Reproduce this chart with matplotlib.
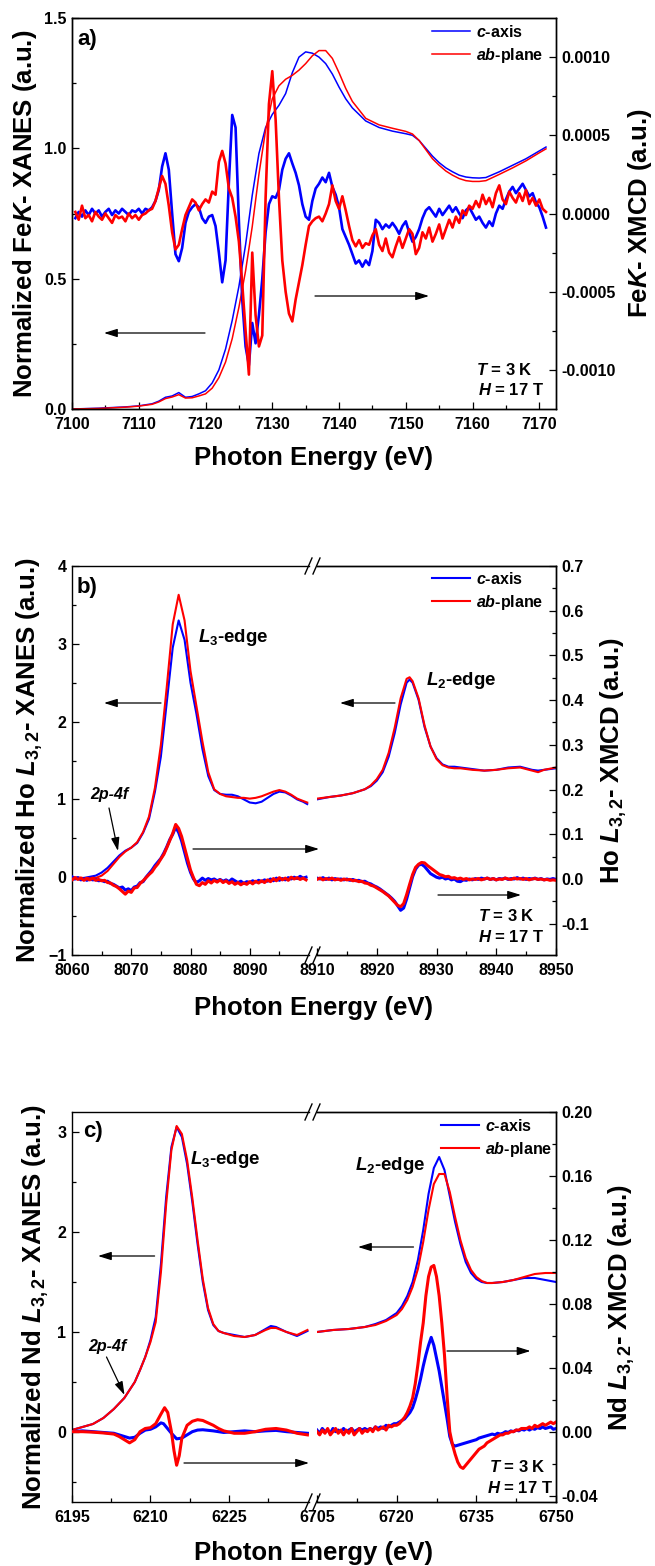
import matplotlib.pyplot as plt
import numpy as np
from matplotlib.ticker import FixedLocator, FormatStrFormatter
from matplotlib.patches import FancyArrowPatch
from matplotlib.lines import Line2D

plt.rcParams['font.family'] = ['Liberation Sans', 'DejaVu Sans']
plt.rcParams['font.weight'] = 'bold'
plt.rcParams['axes.labelweight'] = 'bold'
plt.rcParams['mathtext.fontset'] = 'custom'
plt.rcParams['mathtext.rm'] = 'Liberation Sans:bold'
plt.rcParams['mathtext.it'] = 'Liberation Sans:italic:bold'
plt.rcParams['mathtext.bf'] = 'Liberation Sans:bold'
plt.rcParams['axes.linewidth'] = 1.0

# ---------------- a) Fe K edge ----------------
fe_e = [7100, 7104, 7108, 7110, 7112, 7113, 7114, 7115, 7116, 7117,
        7118, 7119, 7120, 7121, 7122, 7123, 7124, 7125, 7126, 7127,
        7128, 7129, 7130, 7131, 7132, 7133, 7134, 7135, 7136, 7137,
        7138, 7139, 7140, 7141, 7142, 7144, 7146, 7148, 7150, 7151,
        7152, 7153, 7154, 7155, 7156, 7157, 7158, 7159, 7160, 7161,
        7162, 7164, 7166, 7168, 7170, 7171]
fe_xanes_c = [0.0, 0.003, 0.008, 0.012, 0.02, 0.03, 0.045, 0.05, 0.063, 0.045,
              0.048, 0.058, 0.07, 0.1, 0.15, 0.23, 0.34, 0.47, 0.63, 0.82,
              0.98, 1.08, 1.13, 1.165, 1.21, 1.29, 1.35, 1.37, 1.365, 1.35,
              1.325, 1.285, 1.235, 1.19, 1.155, 1.105, 1.08, 1.066, 1.056, 1.05,
              1.03, 1.0, 0.97, 0.945, 0.925, 0.91, 0.897, 0.89, 0.887, 0.886,
              0.888, 0.91, 0.935, 0.96, 0.99, 1.005]
fe_xanes_ab = [0.0, 0.002, 0.007, 0.011, 0.018, 0.027, 0.04, 0.046, 0.055, 0.042,
               0.043, 0.05, 0.058, 0.08, 0.12, 0.18, 0.27, 0.39, 0.53, 0.7,
               0.9, 1.07, 1.19, 1.24, 1.265, 1.28, 1.3, 1.325, 1.355, 1.375,
               1.375, 1.345, 1.29, 1.23, 1.18, 1.115, 1.09, 1.077, 1.065, 1.055,
               1.03, 0.995, 0.96, 0.935, 0.913, 0.897, 0.884, 0.876, 0.873, 0.873,
               0.876, 0.9, 0.925, 0.952, 0.983, 0.998]

# XMCD in units of 1e-4, 0.5 eV steps from 7100.5 to 7171
fe_xmcd_c = [-0.3, 0.1, -0.2, 0.2, -0.1, 0.3, 0.0, 0.2, -0.2, 0.1,
             0.3, -0.1, 0.2, 0.0, 0.3, 0.1, -0.1, 0.2, 0.1, 0.3,
             0.0, 0.3, 0.2, 0.4, 0.8, 1.5, 3.0, 3.85, 2.8, 0.0,
             -2.6, -3.05, -2.2, -0.6, 0.1, 0.4, 0.6, 0.4, -0.3, -0.6,
             -0.2, -0.1, -0.8, -2.5, -4.4, -3.0, 2.0, 6.3, 5.5, -0.5,
             -5.5, -8.5, -9.7, -7.0, -8.3, -6.5, -4.2, -1.2, 0.6, 1.1,
             1.0, 1.5, 2.8, 3.5, 3.85, 3.2, 2.6, 1.8, 0.6, -0.2,
             -0.4, 0.8, 1.6, 1.9, 2.3, 2.0, 2.6, 1.7, 1.2, 0.4,
             -1.0, -1.5, -2.0, -2.6, -3.2, -3.0, -3.4, -3.0, -3.3, -2.4,
             -0.4, -0.6, -1.0, -0.7, -0.9, -0.6, -0.9, -1.3, -0.8, -0.5,
             -1.2, -1.8, -1.5, -1.0, -0.3, 0.2, 0.4, 0.1, -0.2, 0.3,
             -0.1, 0.2, 0.5, 0.1, 0.4, 0.0, -0.3, 0.2, 0.4, 0.0,
             -0.4, -0.2, -0.6, -0.9, -0.5, -0.8, 0.0, 0.5, 0.3, 0.9,
             1.4, 1.7, 1.3, 1.6, 1.9, 1.5, 1.1, 1.3, 0.7, 0.4,
             -0.2, -0.9]
fe_xmcd_ab = [0.1, -0.4, 0.5, -0.3, -0.1, -0.5, 0.1, -0.2, -0.4, 0.0,
              -0.3, -0.6, -0.1, -0.3, -0.2, -0.5, 0.0, -0.3, -0.1, -0.4,
              -0.1, 0.0, 0.2, 0.3, 0.8, 1.6, 2.4, 1.9, 0.5, -1.2,
              -2.3, -2.0, -1.0, -0.1, 0.4, 0.9, 0.7, 0.2, 0.6, 0.9,
              0.7, 1.4, 1.2, 3.3, 4.0, 3.2, 1.6, 1.0, -0.2, -1.8,
              -4.5, -7.5, -10.3, -2.5, -6.5, -8.5, -7.8, 1.0, 7.0, 9.1,
              6.0, 1.0, -3.0, -5.0, -6.4, -6.9, -5.5, -4.4, -3.3, -2.0,
              -0.8, -0.5, -0.3, -0.2, -0.5, 0.0, 0.6, 1.8, 0.8, 0.3,
              1.1, 0.2, -0.8, -1.7, -2.1, -1.7, -2.2, -1.9, -2.0, -1.4,
              -1.0, -2.0, -2.4, -1.6, -2.5, -2.8, -2.1, -1.5, -2.2, -1.6,
              -1.0, -1.3, -2.6, -2.2, -1.2, -1.6, -0.9, -1.8, -1.3, -0.7,
              -1.6, -1.0, -0.4, -0.9, -0.2, -0.6, 0.2, -0.1, 0.5, 0.3,
              0.8, 0.4, 1.2, 0.6, 1.0, 0.4, 1.3, 1.8, 0.9, 0.6,
              1.4, 1.0, 0.7, 1.3, 0.8, 1.5, 0.6, 1.0, 0.5, 0.9,
              0.3, 0.1]
fe_xmcd_e = np.linspace(7100.5, 7171, len(fe_xmcd_c))

fe_xticks = [7100, 7110, 7120, 7130, 7140, 7150, 7160, 7170]
fe_yticks = [0.0, 0.5, 1.0, 1.5]
fe_y2ticks = [-0.0010, -0.0005, 0.0, 0.0005, 0.0010]

# ---------------- b) Ho L3,2 edges ----------------
ho_l_e = [8060, 8062, 8064, 8065, 8066, 8067, 8068, 8069, 8070, 8071,
          8072, 8073, 8074, 8075, 8076, 8077, 8078, 8079, 8080, 8081,
          8082, 8083, 8084, 8085, 8086, 8087, 8088, 8089, 8090, 8091,
          8092, 8093, 8094, 8095, 8096, 8097, 8098, 8099, 8099.7]
ho_l_xanes_c = [-0.03, -0.01, 0.02, 0.06, 0.12, 0.2, 0.28, 0.34, 0.38, 0.44,
                0.57, 0.75, 1.1, 1.55, 2.25, 2.95, 3.3, 3.05, 2.5, 2.1,
                1.65, 1.3, 1.12, 1.07, 1.06, 1.06, 1.04, 1.0, 0.96, 0.95,
                0.97, 1.02, 1.07, 1.1, 1.09, 1.05, 1.0, 0.97, 0.94]
ho_l_xanes_ab = [0.0, -0.01, -0.01, 0.02, 0.08, 0.17, 0.26, 0.33, 0.38, 0.45,
                 0.58, 0.78, 1.15, 1.7, 2.45, 3.25, 3.63, 3.3, 2.65, 2.2,
                 1.75, 1.35, 1.13, 1.07, 1.04, 1.03, 1.02, 1.02, 1.01, 1.02,
                 1.04, 1.07, 1.1, 1.12, 1.1, 1.06, 1.01, 0.98, 0.96]
ho_r_e = [8910, 8912, 8914, 8916, 8918, 8919, 8920, 8921, 8922, 8923,
          8924, 8925, 8925.5, 8926, 8927, 8928, 8929, 8930, 8931, 8932,
          8933, 8934, 8936, 8938, 8940, 8942, 8944, 8946, 8947, 8948, 8950]
ho_r_xanes_c = [1.0, 1.03, 1.05, 1.08, 1.13, 1.17, 1.24, 1.35, 1.55, 1.85,
                2.22, 2.5, 2.54, 2.5, 2.28, 1.93, 1.68, 1.53, 1.45, 1.42,
                1.42, 1.41, 1.39, 1.37, 1.38, 1.41, 1.42, 1.38, 1.37, 1.38, 1.4]
ho_r_xanes_ab = [1.01, 1.03, 1.05, 1.08, 1.13, 1.18, 1.26, 1.38, 1.6, 1.92,
                 2.3, 2.55, 2.57, 2.52, 2.3, 1.95, 1.68, 1.52, 1.44, 1.41,
                 1.4, 1.4, 1.38, 1.37, 1.38, 1.4, 1.41, 1.37, 1.35, 1.38, 1.41]

# XMCD, 0.5 eV steps (8060-8099.5 and 8910-8950)
ho_l_xmcd_c = [0.005, 0.0, 0.003, -0.002, 0.001, -0.003, 0.0, -0.002, -0.001, -0.004,
               -0.003, -0.006, -0.005, -0.01, -0.012, -0.016, -0.02, -0.018, -0.025, -0.022,
               -0.026, -0.018, -0.016, -0.008, -0.006, 0.004, 0.012, 0.02, 0.03, 0.038,
               0.046, 0.058, 0.072, 0.088, 0.1, 0.116, 0.104, 0.085, 0.06, 0.035,
               0.015, 0.0, -0.008, -0.004, 0.002, -0.003, 0.001, -0.002, 0.0, -0.004,
               -0.001, -0.005, -0.002, -0.006, 0.0, -0.004, -0.008, -0.005, -0.01, -0.006,
               -0.008, -0.004, -0.007, -0.003, -0.006, -0.002, -0.005, 0.0, -0.004, 0.002,
               -0.003, 0.001, -0.002, 0.003, 0.0, 0.004, 0.001, 0.006, 0.002, 0.004]
ho_l_xmcd_ab = [-0.002, 0.003, -0.001, 0.002, -0.003, 0.001, -0.002, 0.002, -0.003, -0.001,
                -0.004, -0.003, -0.008, -0.009, -0.014, -0.017, -0.022, -0.028, -0.034, -0.027,
                -0.03, -0.02, -0.019, -0.01, -0.004, 0.003, 0.01, 0.016, 0.026, 0.034,
                0.045, 0.055, 0.07, 0.086, 0.102, 0.122, 0.113, 0.095, 0.07, 0.045,
                0.02, 0.003, -0.012, -0.015, -0.008, -0.012, -0.004, -0.009, -0.003, -0.007,
                -0.002, -0.008, -0.004, -0.01, -0.006, -0.012, -0.008, -0.013, -0.009, -0.012,
                -0.006, -0.011, -0.005, -0.009, -0.004, -0.008, -0.002, -0.006, 0.001, -0.004,
                0.003, -0.002, 0.002, -0.003, 0.004, 0.0, 0.003, -0.001, 0.002, -0.002]
ho_r_xmcd_c = [0.002, 0.0, 0.003, -0.001, 0.002, -0.002, 0.001, -0.001, 0.0, -0.002,
               0.0, -0.003, -0.001, -0.004, -0.003, -0.006, -0.005, -0.009, -0.011, -0.015,
               -0.018, -0.022, -0.027, -0.032, -0.037, -0.043, -0.05, -0.06, -0.07, -0.065,
               -0.045, -0.02, 0.005, 0.022, 0.031, 0.033, 0.028, 0.02, 0.012, 0.008,
               0.004, 0.002, 0.004, 0.0, 0.002, -0.002, 0.0, -0.005, -0.006, -0.002,
               -0.003, 0.0, -0.002, 0.001, -0.001, 0.002, 0.0, 0.002, -0.001, 0.001,
               -0.002, 0.001, 0.0, 0.002, -0.001, 0.001, 0.0, 0.003, 0.0, 0.002,
               -0.001, 0.001, 0.0, 0.002, -0.001, 0.001, -0.002, 0.0, -0.001, 0.001,
               -0.001]
ho_r_xmcd_ab = [-0.001, 0.002, -0.002, 0.001, -0.001, 0.002, -0.002, 0.0, -0.003, 0.0,
                -0.002, -0.001, -0.004, -0.003, -0.006, -0.005, -0.009, -0.01, -0.014, -0.016,
                -0.02, -0.024, -0.028, -0.033, -0.038, -0.045, -0.052, -0.059, -0.062, -0.055,
                -0.035, -0.012, 0.01, 0.026, 0.033, 0.037, 0.036, 0.03, 0.025, 0.02,
                0.015, 0.01, 0.008, 0.005, 0.006, 0.002, 0.003, 0.0, 0.002, -0.001,
                0.001, -0.002, 0.0, -0.001, 0.001, -0.002, 0.0, 0.002, -0.001, 0.001,
                -0.002, 0.0, -0.001, 0.002, 0.0, -0.001, 0.002, 0.0, 0.001, -0.001,
                0.001, -0.002, 0.0, 0.001, -0.001, 0.0, -0.002, -0.001, -0.003, -0.002,
                -0.003]
ho_l_xmcd_e = np.linspace(8060, 8099.5, len(ho_l_xmcd_c))
ho_r_xmcd_e = np.linspace(8910, 8950, len(ho_r_xmcd_c))

ho_xticks_l = [8060, 8070, 8080, 8090]
ho_xminor_l = [8065, 8075, 8085, 8095]
ho_xticks_r = [8910, 8920, 8930, 8940, 8950]
ho_xminor_r = [8915, 8925, 8935, 8945]
ho_yticks = [-1, 0, 1, 2, 3, 4]
ho_y2ticks = [-0.1, 0.0, 0.1, 0.2, 0.3, 0.4, 0.5, 0.6, 0.7]

# ---------------- c) Nd L3,2 edges ----------------
nd_l_e = [6195, 6197, 6199, 6201, 6203, 6205, 6206, 6207, 6208, 6209,
          6210, 6211, 6212, 6213, 6214, 6215, 6216, 6217, 6218, 6219,
          6220, 6221, 6222, 6223, 6224, 6226, 6228, 6230, 6232, 6233,
          6234, 6236, 6238, 6240]
nd_l_xanes_c = [0.02, 0.05, 0.08, 0.14, 0.23, 0.34, 0.42, 0.5, 0.62, 0.75,
                0.92, 1.15, 1.68, 2.35, 2.85, 3.05, 2.95, 2.68, 2.3, 1.88,
                1.5, 1.22, 1.07, 1.01, 0.99, 0.97, 0.95, 0.97, 1.03, 1.06,
                1.05, 1.0, 0.96, 1.01]
nd_l_xanes_ab = [0.02, 0.05, 0.08, 0.14, 0.23, 0.34, 0.42, 0.5, 0.62, 0.75,
                 0.9, 1.1, 1.6, 2.28, 2.82, 3.06, 2.98, 2.72, 2.34, 1.92,
                 1.53, 1.24, 1.08, 1.01, 0.99, 0.96, 0.95, 0.97, 1.02, 1.04,
                 1.04, 1.0, 0.97, 1.02]
nd_r_e = [6705, 6708, 6711, 6714, 6716, 6718, 6720, 6721, 6722, 6723,
          6724, 6725, 6726, 6727, 6728, 6729, 6730, 6731, 6732, 6733,
          6734, 6735, 6736, 6737, 6738, 6740, 6742, 6744, 6746, 6748, 6750]
nd_r_xanes_c = [1.0, 1.02, 1.03, 1.05, 1.08, 1.12, 1.19, 1.26, 1.36, 1.5,
                1.72, 2.02, 2.38, 2.64, 2.75, 2.62, 2.36, 2.1, 1.88, 1.7,
                1.59, 1.53, 1.5, 1.49, 1.49, 1.5, 1.52, 1.54, 1.54, 1.52, 1.5]
nd_r_xanes_ab = [1.0, 1.02, 1.03, 1.05, 1.07, 1.11, 1.17, 1.23, 1.32, 1.45,
                 1.63, 1.9, 2.22, 2.48, 2.58, 2.58, 2.4, 2.15, 1.92, 1.74,
                 1.62, 1.55, 1.51, 1.49, 1.49, 1.5, 1.52, 1.55, 1.58, 1.59, 1.59]

nd_l_xmcd_e_c = [6195, 6197, 6199, 6201, 6203, 6205, 6206, 6207, 6208, 6209,
                 6210, 6211, 6212, 6212.5, 6213, 6214, 6215, 6216, 6217, 6218,
                 6219, 6220, 6222, 6224, 6226, 6228, 6230, 6232, 6234, 6236,
                 6238, 6240]
nd_l_xmcd_c = [0.0, 0.0005, 0.0, -0.0005, -0.001, -0.003, -0.004, -0.0035, -0.001, 0.001,
               0.0015, 0.003, 0.0055, 0.005, 0.003, -0.001, -0.0045, -0.004, -0.002, 0.0,
               0.001, 0.0012, 0.0005, -0.0005, 0.0, 0.0005, 0.0, 0.0005, 0.0008, 0.0,
               -0.0005, -0.001]
nd_l_xmcd_e_ab = [6195, 6197, 6199, 6201, 6203, 6204, 6205, 6206, 6207, 6208,
                  6209, 6210, 6211, 6212, 6212.7, 6213.3, 6214, 6214.5, 6215, 6215.5,
                  6216, 6217, 6218, 6219, 6220, 6221, 6222, 6223, 6224, 6226,
                  6228, 6230, 6232, 6234, 6236, 6238, 6240]
nd_l_xmcd_ab = [0.0, 0.0, -0.0003, -0.0008, -0.0015, -0.003, -0.005, -0.007, -0.005, 0.0,
                0.002, 0.0025, 0.005, 0.011, 0.015, 0.012, 0.0, -0.012, -0.021, -0.015,
                -0.004, 0.004, 0.0065, 0.0075, 0.007, 0.0055, 0.004, 0.002, 0.0005, -0.001,
                -0.001, 0.0, 0.0015, 0.002, 0.001, -0.001, -0.002]
# 0.5 eV steps, 6705-6750
nd_r_xmcd_c = [0.001, -0.001, 0.002, 0.0, 0.001, -0.001, 0.002, 0.0, 0.001, 0.0,
               0.002, 0.0, 0.001, 0.002, 0.0, 0.001, 0.002, 0.001, 0.002, 0.001,
               0.002, 0.001, 0.003, 0.002, 0.003, 0.002, 0.004, 0.003, 0.004, 0.005,
               0.005, 0.006, 0.007, 0.008, 0.01, 0.012, 0.015, 0.02, 0.026, 0.033,
               0.041, 0.048, 0.054, 0.059, 0.054, 0.046, 0.038, 0.028, 0.018, 0.008,
               -0.003, -0.008, -0.009, -0.0085, -0.008, -0.0075, -0.007, -0.0065, -0.006, -0.0055,
               -0.005, -0.004, -0.0035, -0.003, -0.0025, -0.002, -0.0015, -0.002, -0.001, -0.0015,
               -0.001, 0.0, -0.0005, 0.0005, 0.0, 0.001, 0.0005, 0.0015, 0.001, 0.002,
               0.001, 0.002, 0.0015, 0.0025, 0.002, 0.003, 0.002, 0.0025, 0.003, 0.0015,
               0.002]
nd_r_xmcd_ab = [0.0, -0.002, 0.001, -0.001, 0.002, -0.002, 0.0, 0.002, -0.001, 0.001,
                -0.002, 0.001, -0.001, 0.002, -0.002, 0.0, 0.002, -0.001, 0.001, 0.0,
                0.002, 0.0, 0.003, 0.001, 0.002, 0.003, 0.001, 0.004, 0.003, 0.004,
                0.004, 0.005, 0.007, 0.009, 0.012, 0.016, 0.021, 0.03, 0.042, 0.056,
                0.068, 0.085, 0.097, 0.103, 0.104, 0.097, 0.085, 0.068, 0.048, 0.022,
                0.0, -0.008, -0.014, -0.019, -0.022, -0.023, -0.021, -0.019, -0.017, -0.015,
                -0.013, -0.011, -0.01, -0.009, -0.007, -0.006, -0.005, -0.004, -0.003, -0.002,
                -0.002, -0.001, -0.001, 0.0, 0.0, 0.001, 0.001, 0.002, 0.002, 0.002,
                0.003, 0.002, 0.004, 0.003, 0.004, 0.005, 0.004, 0.005, 0.006, 0.005,
                0.006]
nd_r_xmcd_e = np.linspace(6705, 6750, len(nd_r_xmcd_c))

nd_xticks_l = [6195, 6210, 6225]
nd_xminor_l = [6202.5, 6217.5, 6232.5]
nd_xticks_r = [6705, 6720, 6735, 6750]
nd_xminor_r = [6712.5, 6727.5, 6742.5]
nd_yticks = [0, 1, 2, 3]
nd_y2ticks = [-0.04, 0.0, 0.04, 0.08, 0.12, 0.16, 0.20]

W, H = 655, 1566
fig = plt.figure(figsize=(W / 100, H / 100), dpi=100)


def box(x0, y0, x1, y1):
    return [x0 / W, 1 - y1 / H, (x1 - x0) / W, (y1 - y0) / H]


def px(x, y):
    return (x / W, 1 - y / H)


def arrow(x0, y0, x1, y1):
    fig.add_artist(FancyArrowPatch(px(x0, y0), px(x1, y1), transform=fig.transFigure,
                                   arrowstyle='-|>,head_length=0.8,head_width=0.25',
                                   mutation_scale=10, lw=0.9, color='black',
                                   shrinkA=0, shrinkB=0))


def style(ax):
    ax.tick_params(which='both', direction='in', top=False, labelsize=11.5, width=0.9, pad=4)
    ax.tick_params(axis='x', which='both', pad=6)
    ax.tick_params(which='major', length=5)
    ax.tick_params(which='minor', length=3)


def minor_y(ax, ticks):
    step = ticks[1] - ticks[0]
    ax.yaxis.set_major_locator(FixedLocator(ticks))
    ax.yaxis.set_minor_locator(FixedLocator([t + step / 2 for t in ticks[:-1]]))


def legend(ax, handles, x, y):
    ax.legend(handles, ['$c$-axis', '$ab$-plane'], loc='upper left',
              bbox_to_anchor=px(x, y), bbox_transform=fig.transFigure,
              frameon=False, borderpad=0, borderaxespad=0, handlelength=2.4,
              handletextpad=0.35, labelspacing=0.35, fontsize=11.5)


def broken(y0, y1):
    axl = fig.add_axes(box(72, y0, 309, y1))
    axr = fig.add_axes(box(317, y0, 556, y1))
    axl2 = axl.twinx()
    axr2 = axr.twinx()
    axl.spines['right'].set_visible(False)
    axr.spines['left'].set_visible(False)
    for s in axl2.spines.values():
        s.set_visible(False)
    axr2.spines['left'].set_visible(False)
    for a in (axl, axr, axl2, axr2):
        style(a)
    axl.tick_params(axis='y', which='both', right=False)
    axr.tick_params(axis='y', which='both', left=False, labelleft=False, right=False)
    axl2.tick_params(axis='y', which='both', right=False, labelright=False, left=False)
    axr2.tick_params(axis='y', which='both', left=False)
    for y in (y0, y1):
        for x in (308.5, 316.5):
            fig.add_artist(Line2D([(x - 3.5) / W, (x + 3.5) / W],
                                  [1 - (y + 8) / H, 1 - (y - 8) / H],
                                  transform=fig.transFigure, color='black', lw=1.0))
    return axl, axr, axl2, axr2


# ---------- panel a ----------
ax = fig.add_axes(box(72, 18, 556, 409))
ax2 = ax.twinx()
style(ax)
style(ax2)
ax.tick_params(axis='y', which='both', right=False)
la, = ax.plot(fe_e, fe_xanes_c, color='blue', lw=1.1)
lb, = ax.plot(fe_e, fe_xanes_ab, color='red', lw=1.1)
ax2.plot(fe_xmcd_e, np.array(fe_xmcd_c) * 1e-4, color='blue', lw=1.9)
ax2.plot(fe_xmcd_e, np.array(fe_xmcd_ab) * 1e-4, color='red', lw=1.9)
ax.set_xlim(7100, 7172.5)
ax.set_ylim(0, 1.5)
ax2.set_ylim(-0.00125, 0.00125)
ax.xaxis.set_major_locator(FixedLocator(fe_xticks))
ax.xaxis.set_minor_locator(FixedLocator([t + 5 for t in fe_xticks]))
minor_y(ax, fe_yticks)
minor_y(ax2, fe_y2ticks)
ax.yaxis.set_major_formatter(FormatStrFormatter('%.1f'))
ax2.yaxis.set_major_formatter(FormatStrFormatter('%.4f'))
ax.set_xlabel('Photon Energy (eV)', fontsize=18.5)
ax.xaxis.set_label_coords(0.5, -0.095)
ax.set_ylabel('Normalized Fe$K$- XANES (a.u.)', fontsize=18.5)
ax.yaxis.set_label_coords(-0.068, 0.5)
ax2.set_ylabel('Fe$K$- XMCD (a.u.)', fontsize=18.5)
ax2.yaxis.set_label_coords(1.145, 0.5)
legend(ax2, [la, lb], 432, 24)
fig.text(*px(77, 40), 'a)', fontsize=16, va='center')
fig.text(*px(476, 370), '$T$ = 3 K', fontsize=12, va='center')
fig.text(*px(478, 390), '$H$ = 17 T', fontsize=12, va='center')
arrow(205, 333, 104, 333)
arrow(315, 296, 429, 296)

# ---------- panel b ----------
bl, br, bl2, br2 = broken(566, 955)
lc, = bl.plot(ho_l_e, ho_l_xanes_c, color='blue', lw=1.5)
ld, = bl.plot(ho_l_e, ho_l_xanes_ab, color='red', lw=1.5)
br.plot(ho_r_e, ho_r_xanes_c, color='blue', lw=1.5)
br.plot(ho_r_e, ho_r_xanes_ab, color='red', lw=1.5)
bl2.plot(ho_l_xmcd_e, ho_l_xmcd_c, color='blue', lw=2.2)
bl2.plot(ho_l_xmcd_e, ho_l_xmcd_ab, color='red', lw=2.2)
br2.plot(ho_r_xmcd_e, ho_r_xmcd_c, color='blue', lw=2.2)
br2.plot(ho_r_xmcd_e, ho_r_xmcd_ab, color='red', lw=2.2)
bl.set_xlim(8060, 8100)
br.set_xlim(8910, 8950)
for a in (bl, br):
    a.set_ylim(-1, 4)
    minor_y(a, ho_yticks)
for a in (bl2, br2):
    a.set_ylim(-0.17, 0.7)
    minor_y(a, ho_y2ticks)
br2.yaxis.set_major_formatter(FormatStrFormatter('%.1f'))
bl.xaxis.set_major_locator(FixedLocator(ho_xticks_l))
bl.xaxis.set_minor_locator(FixedLocator(ho_xminor_l))
br.xaxis.set_major_locator(FixedLocator(ho_xticks_r))
br.xaxis.set_minor_locator(FixedLocator(ho_xminor_r))
bl.set_xlabel('Photon Energy (eV)', fontsize=18.5)
bl.xaxis.set_label_coords((314 - 72) / 237, -0.105)
bl.set_ylabel('Normalized Ho $L_{3,2}$- XANES (a.u.)', fontsize=18.5)
bl.yaxis.set_label_coords(-0.114, 0.5)
br2.set_ylabel('Ho $L_{3,2}$- XMCD (a.u.)', fontsize=18.5)
br2.yaxis.set_label_coords(1.18, 0.5)
legend(br2, [lc, ld], 432, 571)
fig.text(*px(77, 587), 'b)', fontsize=16, va='center')
fig.text(*px(198, 638), '$L_3$-edge', fontsize=13.5, va='center')
fig.text(*px(426, 680), '$L_2$-edge', fontsize=13.5, va='center')
fig.text(*px(90, 795), '2p-4f', fontsize=11.5, style='italic', va='center')
fig.text(*px(478, 916), '$T$ = 3 K', fontsize=12, va='center')
fig.text(*px(478, 937), '$H$ = 17 T', fontsize=12, va='center')
arrow(109, 808, 118, 851)
arrow(161, 703, 104, 703)
arrow(395, 703, 340, 703)
arrow(193, 849, 319, 849)
arrow(438, 895, 521, 895)

# ---------- panel c ----------
cl, cr, cl2, cr2 = broken(1112, 1502)
le, = cl.plot(nd_l_e, nd_l_xanes_c, color='blue', lw=1.5)
lf, = cl.plot(nd_l_e, nd_l_xanes_ab, color='red', lw=1.5)
cr.plot(nd_r_e, nd_r_xanes_c, color='blue', lw=1.5)
cr.plot(nd_r_e, nd_r_xanes_ab, color='red', lw=1.5)
cl2.plot(nd_l_xmcd_e_c, nd_l_xmcd_c, color='blue', lw=2.2)
cl2.plot(nd_l_xmcd_e_ab, nd_l_xmcd_ab, color='red', lw=2.2)
cr2.plot(nd_r_xmcd_e, nd_r_xmcd_c, color='blue', lw=2.2)
cr2.plot(nd_r_xmcd_e, nd_r_xmcd_ab, color='red', lw=2.2)
cl.set_xlim(6195, 6240.3)
cr.set_xlim(6705, 6750)
for a in (cl, cr):
    a.set_ylim(-0.7, 3.2)
    minor_y(a, [-1] + nd_yticks + [4])
for a in (cl2, cr2):
    a.set_ylim(-0.044, 0.2)
    minor_y(a, nd_y2ticks)
cr2.yaxis.set_major_formatter(FormatStrFormatter('%.2f'))
cl.xaxis.set_major_locator(FixedLocator(nd_xticks_l))
cl.xaxis.set_minor_locator(FixedLocator(nd_xminor_l))
cr.xaxis.set_major_locator(FixedLocator(nd_xticks_r))
cr.xaxis.set_minor_locator(FixedLocator(nd_xminor_r))
cl.set_xlabel('Photon Energy (eV)', fontsize=18.5)
cl.xaxis.set_label_coords((314 - 72) / 237, -0.1)
cl.set_ylabel('Normalized Nd $L_{3,2}$- XANES (a.u.)', fontsize=18.5)
cl.yaxis.set_label_coords(-0.089, 0.5)
cr2.set_ylabel('Nd $L_{3,2}$- XMCD (a.u.)', fontsize=18.5)
cr2.yaxis.set_label_coords(1.213, 0.5)
legend(cr2, [le, lf], 441, 1118)
fig.text(*px(83, 1132), 'c)', fontsize=16, va='center')
fig.text(*px(190, 1160), '$L_3$-edge', fontsize=13.5, va='center')
fig.text(*px(355, 1165), '$L_2$-edge', fontsize=13.5, va='center')
fig.text(*px(88, 1347), '2p-4f', fontsize=11.5, style='italic', va='center')
fig.text(*px(489, 1467), '$T$ = 3 K', fontsize=12, va='center')
fig.text(*px(487, 1488), '$H$ = 17 T', fontsize=12, va='center')
arrow(106.5, 1357, 124.5, 1395)
arrow(154.6, 1256, 98, 1256)
arrow(413.5, 1247, 358, 1247)
arrow(184, 1463, 309, 1463)
arrow(447, 1351, 530.5, 1351)

fig.savefig('out.png', dpi=100)
